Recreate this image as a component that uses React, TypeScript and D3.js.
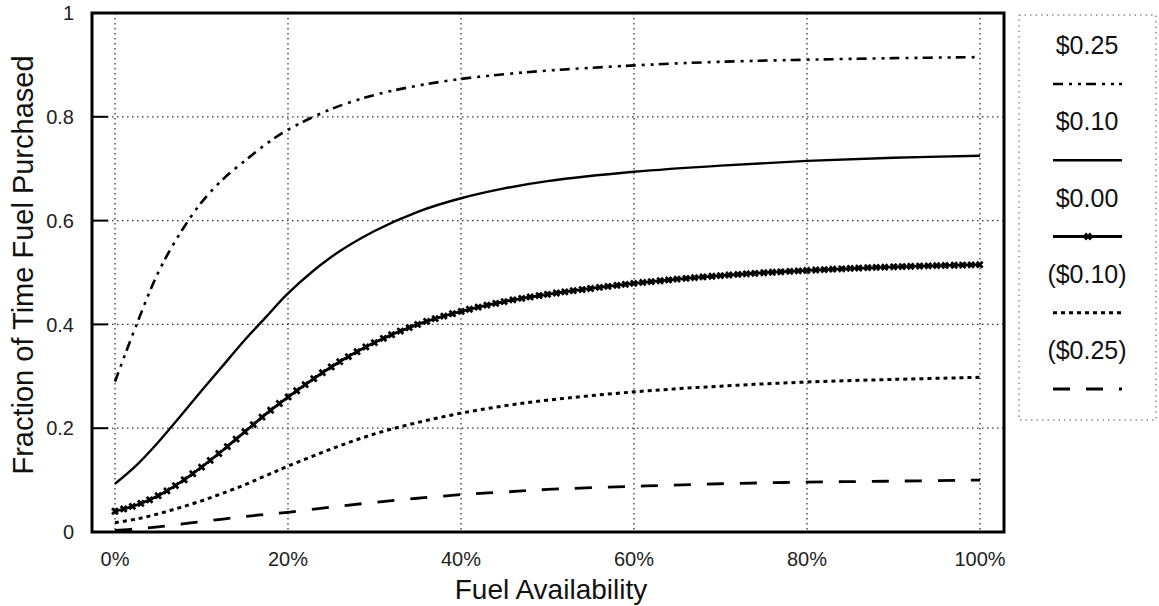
import React, { useRef, useEffect } from 'react';
import * as d3 from 'd3';

// fuel availability (%) sample points
const availability = [0, 2.5, 5, 7.5, 10, 12.5, 15, 17.5, 20, 25, 30, 35, 40, 45, 50, 60, 70, 80, 90, 100];

// fraction of time fuel purchased, one array per price difference
const plus25 = [0.29, 0.4, 0.5, 0.575, 0.635, 0.68, 0.715, 0.748, 0.775, 0.815, 0.842, 0.86, 0.873, 0.882, 0.889, 0.899, 0.906, 0.91, 0.913, 0.915];
const plus10 = [0.093, 0.129, 0.173, 0.222, 0.272, 0.321, 0.37, 0.415, 0.46, 0.53, 0.58, 0.617, 0.643, 0.662, 0.676, 0.694, 0.706, 0.715, 0.721, 0.725];
const zero = [0.04, 0.052, 0.07, 0.095, 0.125, 0.158, 0.193, 0.228, 0.26, 0.318, 0.365, 0.4, 0.425, 0.444, 0.458, 0.479, 0.494, 0.504, 0.511, 0.515];
const minus10 = [0.018, 0.025, 0.035, 0.047, 0.06, 0.075, 0.091, 0.109, 0.127, 0.16, 0.189, 0.211, 0.229, 0.243, 0.254, 0.27, 0.281, 0.289, 0.294, 0.298];
const minus25 = [0.003, 0.006, 0.01, 0.015, 0.02, 0.025, 0.03, 0.034, 0.038, 0.048, 0.057, 0.065, 0.072, 0.077, 0.082, 0.088, 0.093, 0.096, 0.098, 0.1];

const seriesLabels = ['$0.25', '$0.10', '$0.00', '($0.10)', '($0.25)'];
const xTicks = [0, 20, 40, 60, 80, 100];
const yTicks = [0, 0.2, 0.4, 0.6, 0.8, 1];

const FONT = '"Liberation Sans", Arial, Helvetica, sans-serif';

const App = () => {
  const svgRef = useRef<SVGSVGElement>(null);
  const width = 1159;
  const height = 606;

  useEffect(() => {
    const svg = d3.select(svgRef.current);
    svg.selectAll('*').remove();

    const frame = { left: 92, right: 1004, top: 13, bottom: 532 };

    const x = d3.scaleLinear().domain([0, 100]).range([115, 980]);
    const y = d3.scaleLinear().domain([0, 1]).range([frame.bottom, frame.top]);

    const styles = [
      { data: plus25, dash: '10,6,3,6,3,5', width: 2.6, marker: false },
      { data: plus10, dash: null, width: 2.4, marker: false },
      { data: zero, dash: null, width: 2.8, marker: true },
      { data: minus10, dash: '4,4', width: 3, marker: false },
      { data: minus25, dash: '17,16', width: 2.8, marker: false },
    ];

    const g = svg.append('g');

    // grid
    xTicks.forEach(t => {
      g.append('line')
        .attr('x1', x(t)).attr('x2', x(t))
        .attr('y1', frame.top).attr('y2', frame.bottom)
        .attr('stroke', '#333').attr('stroke-width', 1.3)
        .attr('stroke-dasharray', '1.5,3.5');
    });
    yTicks.filter(t => t > 0 && t < 1).forEach(t => {
      g.append('line')
        .attr('x1', frame.left).attr('x2', frame.right)
        .attr('y1', y(t)).attr('y2', y(t))
        .attr('stroke', '#333').attr('stroke-width', 1.3)
        .attr('stroke-dasharray', '1.5,3.5');
      // inward tick
      g.append('line')
        .attr('x1', frame.left).attr('x2', frame.left + 16)
        .attr('y1', y(t)).attr('y2', y(t))
        .attr('stroke', '#000').attr('stroke-width', 2);
    });

    const line = d3.line<number>()
      .x((d, i) => x(availability[i]))
      .y(d => y(d))
      .curve(d3.curveCatmullRom.alpha(0.5));

    const marker = d3.symbol().type(d3.symbolCross).size(38);

    styles.forEach(s => {
      const p = g.append('path')
        .attr('d', line(s.data))
        .attr('fill', 'none')
        .attr('stroke', '#000')
        .attr('stroke-width', s.width)
        .attr('stroke-dasharray', s.dash);

      if (s.marker) {
        // markers every 1% of availability, placed on the drawn curve
        const node = p.node() as SVGPathElement;
        const len = node.getTotalLength();
        const pts: { x: number; y: number }[] = [];
        for (let l = 0; l <= len; l += 0.5) {
          const pt = node.getPointAtLength(l);
          pts.push({ x: pt.x, y: pt.y });
        }
        d3.range(0, 101, 1).forEach(v => {
          const px = x(v);
          const best = d3.least(pts, q => Math.abs(q.x - px));
          if (!best) return;
          g.append('path')
            .attr('d', marker())
            .attr('transform', `translate(${best.x},${best.y}) rotate(45)`)
            .attr('fill', '#000');
        });
      }
    });

    // frame
    g.append('rect')
      .attr('x', frame.left).attr('y', frame.top)
      .attr('width', frame.right - frame.left)
      .attr('height', frame.bottom - frame.top)
      .attr('fill', 'none').attr('stroke', '#000').attr('stroke-width', 3);

    // tick labels
    yTicks.forEach(t => {
      g.append('text')
        .attr('x', 74).attr('y', y(t))
        .attr('dy', '0.36em')
        .attr('text-anchor', 'end')
        .attr('font-family', FONT).attr('font-size', '20px')
        .attr('fill', '#222')
        .text(t === 0 || t === 1 ? String(t) : t.toFixed(1));
    });
    xTicks.forEach(t => {
      g.append('text')
        .attr('x', x(t)).attr('y', 566)
        .attr('text-anchor', 'middle')
        .attr('font-family', FONT).attr('font-size', '20px')
        .attr('fill', '#222')
        .text(t + '%');
    });

    // axis titles
    g.append('text')
      .attr('x', (frame.left + frame.right) / 2 + 3).attr('y', 599)
      .attr('text-anchor', 'middle')
      .attr('font-family', FONT).attr('font-size', '28px')
      .attr('fill', '#111')
      .text('Fuel Availability');

    g.append('text')
      .attr('transform', `translate(33,${265}) rotate(-90)`)
      .attr('text-anchor', 'middle')
      .attr('font-family', FONT).attr('font-size', '29px')
      .attr('fill', '#111')
      .text('Fraction of Time Fuel Purchased');

    // legend
    const lg = svg.append('g');
    lg.append('rect')
      .attr('x', 1019).attr('y', 15)
      .attr('width', 137).attr('height', 405)
      .attr('fill', 'none').attr('stroke', '#555')
      .attr('stroke-width', 1).attr('stroke-dasharray', '1.5,4');

    const legendY = d3.scaleLinear().domain([0, 4]).range([45, 350]);
    seriesLabels.forEach((label, i) => {
      const cy = legendY(i);
      lg.append('text')
        .attr('x', 1087).attr('y', cy)
        .attr('dy', '0.36em')
        .attr('text-anchor', 'middle')
        .attr('font-family', FONT).attr('font-size', '25px')
        .attr('fill', '#111')
        .text(label);
      const s = styles[i];
      lg.append('line')
        .attr('x1', 1053).attr('x2', 1122)
        .attr('y1', cy + 39).attr('y2', cy + 39)
        .attr('stroke', '#000')
        .attr('stroke-width', s.width)
        .attr('stroke-dasharray', s.dash);
      if (s.marker) {
        lg.append('path')
          .attr('d', marker())
          .attr('transform', `translate(1088,${cy + 39}) rotate(45)`)
          .attr('fill', '#000');
      }
    });
  }, []);

  return (
    <svg ref={svgRef} width={width} height={height} style={{ display: 'block', position: 'absolute', left: 0, top: 0, background: '#fff' }}></svg>
  );
};

export default App;
